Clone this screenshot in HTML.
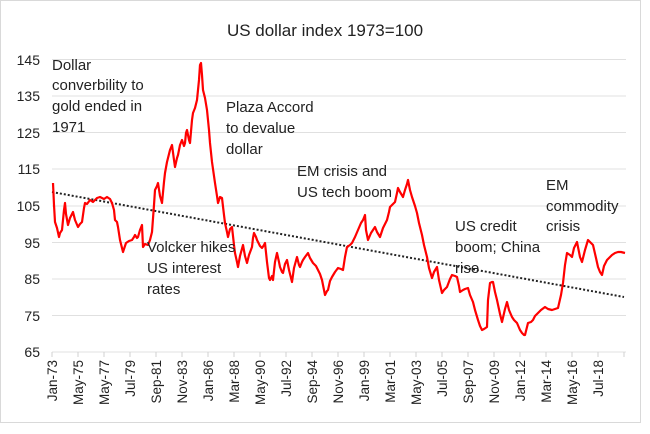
<!DOCTYPE html>
<html><head><meta charset="utf-8"><style>
body{margin:0;background:#fff;}
svg text{font-family:"Liberation Sans",sans-serif;fill:#222;}
</style></head><body>
<svg width="650" height="429" viewBox="0 0 650 429" xmlns="http://www.w3.org/2000/svg">
<rect x="0.5" y="0.5" width="640" height="422" fill="#fff" stroke="#d9d9d9"/>
<text x="325" y="36" font-size="17" text-anchor="middle">US dollar index 1973=100</text>
<g stroke="#e0e0e0" stroke-width="1">
<line x1="52" x2="626" y1="59.5" y2="59.5"/><line x1="52" x2="626" y1="96" y2="96"/>
<line x1="52" x2="626" y1="132.5" y2="132.5"/><line x1="52" x2="626" y1="169" y2="169"/>
<line x1="52" x2="626" y1="206" y2="206"/><line x1="52" x2="626" y1="242.5" y2="242.5"/>
<line x1="52" x2="626" y1="279" y2="279"/><line x1="52" x2="626" y1="315.5" y2="315.5"/>
<line x1="52" x2="626" y1="352" y2="352"/>
</g>
<g font-size="14" text-anchor="end">
<text x="40" y="65">145</text><text x="40" y="101">135</text><text x="40" y="138">125</text>
<text x="40" y="174">115</text><text x="40" y="211">105</text><text x="40" y="248">95</text>
<text x="40" y="284">85</text><text x="40" y="321">75</text><text x="40" y="357">65</text>
</g>
<path stroke="#d0d0d0" d="M52,352v5M78,352v5M104,352v5M130,352v5M156,352v5M182,352v5M208,352v5M234,352v5M260,352v5M286,352v5M312,352v5M338,352v5M364,352v5M390,352v5M416,352v5M442,352v5M468,352v5M494,352v5M520,352v5M546,352v5M572,352v5M598,352v5M624,352v5"/>
<g font-size="13.5" text-anchor="end">
<text transform="translate(57,360) rotate(-90)">Jan-73</text>
<text transform="translate(83,360) rotate(-90)">May-75</text>
<text transform="translate(109,360) rotate(-90)">May-77</text>
<text transform="translate(135,360) rotate(-90)">Jul-79</text>
<text transform="translate(161,360) rotate(-90)">Sep-81</text>
<text transform="translate(187,360) rotate(-90)">Nov-83</text>
<text transform="translate(213,360) rotate(-90)">Jan-86</text>
<text transform="translate(239,360) rotate(-90)">Mar-88</text>
<text transform="translate(265,360) rotate(-90)">May-90</text>
<text transform="translate(291,360) rotate(-90)">Jul-92</text>
<text transform="translate(317,360) rotate(-90)">Sep-94</text>
<text transform="translate(343,360) rotate(-90)">Nov-96</text>
<text transform="translate(369,360) rotate(-90)">Jan-99</text>
<text transform="translate(395,360) rotate(-90)">Mar-01</text>
<text transform="translate(421,360) rotate(-90)">May-03</text>
<text transform="translate(447,360) rotate(-90)">Jul-05</text>
<text transform="translate(473,360) rotate(-90)">Sep-07</text>
<text transform="translate(499,360) rotate(-90)">Nov-09</text>
<text transform="translate(525,360) rotate(-90)">Jan-12</text>
<text transform="translate(551,360) rotate(-90)">Mar-14</text>
<text transform="translate(577,360) rotate(-90)">May-16</text>
<text transform="translate(603,360) rotate(-90)">Jul-18</text>
</g>
<line x1="52" y1="192" x2="624" y2="297" stroke="#222" stroke-width="2" stroke-dasharray="2,2"/>
<polyline fill="none" stroke="#ff0000" stroke-width="2.2" stroke-linejoin="round" points="53,183 54,205 55,222 57,228 59,237 60,233 62,230 64,210 65,203 66,214 68,225 70,218 73,212 75,220 78,227 80,224 82,222 84,208 85,203 87,204 90,200 93,202 95,200 97,198 100,197 104,199 107,197 110,199 112,203 114,210 115,220 117,222 118,227 120,240 123,252 125,246 126,243 129,241 132,240 134,237 135,235 137,238 138,237 140,230 142,225 143,247 145,244 148,245 150,240 152,232 154,205 155,190 157,186 158,183 160,196 162,203 164,182 165,173 167,162 168,158 170,150 172,145 174,160 175,167 177,158 178,155 180,145 182,140 184,146 185,143 186,133 187,130 189,140 190,143 192,120 193,113 195,108 197,100 199,80 200,65 201,63 202,75 203,90 205,98 207,110 209,130 210,143 212,162 215,183 217,196 218,203 220,197 222,198 224,215 225,223 227,232 228,237 230,229 232,227 234,245 235,253 237,262 238,267 240,256 243,245 245,256 247,263 249,255 252,247 253,238 254,233 256,237 257,240 260,246 262,248 264,245 265,243 267,262 269,278 270,280 272,276 273,280 275,262 277,253 279,262 280,267 282,272 283,273 285,264 287,260 289,270 292,282 294,268 297,257 299,265 300,267 302,262 303,260 305,257 308,253 310,258 313,263 316,266 318,270 320,274 322,280 324,290 325,295 327,291 328,290 330,281 332,277 335,272 338,268 341,269 343,270 345,257 347,247 350,245 352,243 355,237 358,230 361,223 363,220 365,215 366,230 368,240 371,233 373,230 375,227 377,232 380,237 383,228 385,224 387,220 389,212 390,207 393,204 395,202 397,193 398,188 400,192 403,197 405,190 407,184 408,180 410,190 412,197 415,206 417,213 419,223 422,235 424,245 427,257 429,268 432,278 434,272 437,267 439,280 442,293 444,290 447,287 450,279 452,275 455,276 457,277 459,286 460,292 463,290 465,289 468,288 470,295 473,302 475,310 478,320 480,326 482,330 484,329 487,327 488,300 490,283 492,282 493,282 495,292 497,300 500,314 502,322 505,309 507,302 509,310 512,317 514,320 517,323 520,330 522,333 524,335 525,335 527,327 528,323 531,322 533,320 535,316 538,313 541,310 545,307 548,309 552,310 555,309 558,308 561,295 563,283 565,265 567,253 570,255 572,257 574,248 577,242 580,257 582,262 585,250 588,240 590,242 593,245 596,258 598,267 600,272 602,275 604,266 607,260 610,257 612,255 615,253 618,252 621,252 625,253"/>
<g font-size="15">
<text x="52" y="70">Dollar</text><text x="52" y="90">converbility to</text><text x="52" y="111">gold ended  in</text><text x="52" y="132">1971</text>
<text x="226" y="112">Plaza Accord</text><text x="226" y="133">to devalue</text><text x="226" y="154">dollar</text>
<text x="297" y="176">EM crisis and</text><text x="297" y="197">US tech boom</text>
<text x="147" y="252">Volcker hikes</text><text x="147" y="273">US interest</text><text x="147" y="294">rates</text>
<text x="455" y="231">US credit</text><text x="455" y="252">boom; China</text><text x="455" y="273">rise</text>
<text x="546" y="190">EM</text><text x="546" y="211">commodity</text><text x="546" y="231">crisis</text>
</g>
</svg>
</body></html>
